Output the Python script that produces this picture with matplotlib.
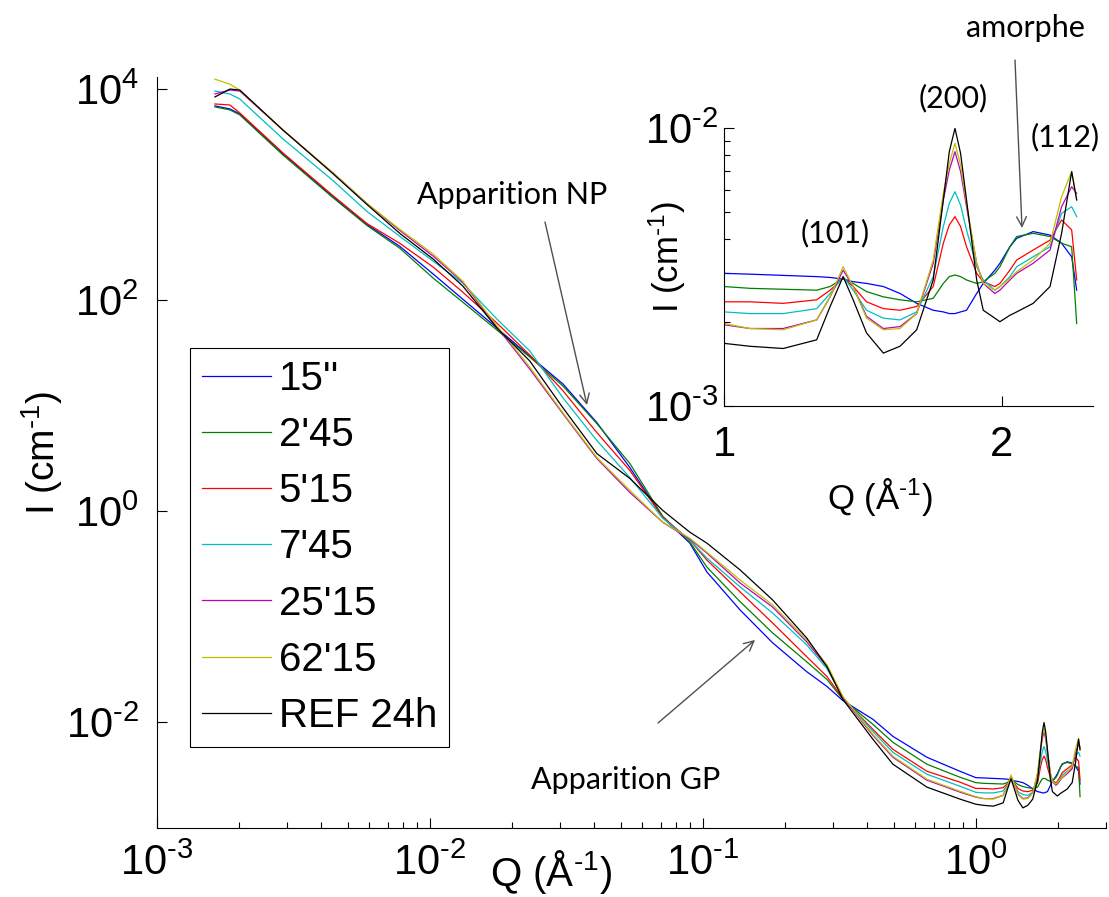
import math
import matplotlib
matplotlib.use('Agg')
import matplotlib.pyplot as plt
from matplotlib.ticker import NullLocator, NullFormatter, FixedLocator, FixedFormatter, LogLocator, FuncFormatter

plt.rcParams['font.family'] = ['Liberation Sans', 'DejaVu Sans']
plt.rcParams['mathtext.fontset'] = 'custom'
plt.rcParams['mathtext.rm'] = 'Liberation Sans'
plt.rcParams['mathtext.it'] = 'Liberation Sans:italic'
plt.rcParams['mathtext.bf'] = 'Liberation Sans:bold'
plt.rcParams['axes.unicode_minus'] = False

# Series labels and MATLAB-like colours
labels = ["15''", "2'45", "5'15", "7'45", "25'15", "62'15", "REF 24h"]
colors = ['#0000ff', '#008000', '#ff0000', '#00bfbf', '#bf00bf', '#bfbf00', '#000000']

# Small-angle part, Q in 1/A, I in 1/cm
q_low = [1.63e-3, 1.85e-3, 2.01e-3, 2.89e-3, 4.41e-3, 5.88e-3, 7.76e-3, 1.03e-2,
         1.32e-2, 1.76e-2, 2.32e-2, 3.07e-2, 4.09e-2, 5.40e-2, 7.13e-2, 8.96e-2,
         0.1035, 0.137, 0.180, 0.240, 0.285, 0.326, 0.420, 0.497, 0.662, 0.874]

i_low_15s = [6.92e3, 6.48e3, 5.81e3, 2.44e3, 958, 521, 323, 176, 102, 54.5, 29.6, 16.1, 6.92,
             2.60, 0.877, 0.499, 0.266, 0.116, 0.0569, 0.0303, 0.0219, 0.0161, 0.0107,
             0.00738, 0.00468, 0.00345]
i_low_2m45 = [6.77e3, 6.34e3, 5.69e3, 2.38e3, 937, 510, 310, 161, 95.7, 52.1, 29.0, 15.4, 6.77,
              2.84, 0.897, 0.510, 0.296, 0.139, 0.0706, 0.0376, 0.0255, 0.0165, 0.00958,
              0.00648, 0.00402, 0.00303]
i_low_5m15 = [7.22e3, 7.06e3, 5.94e3, 2.49e3, 979, 532, 345, 205, 119, 60.7, 30.3, 13.9, 5.56,
              2.44, 0.877, 0.533, 0.345, 0.172, 0.0877, 0.0420, 0.0272, 0.0168, 0.00859,
              0.00556, 0.00345, 0.00272]
i_low_7m45 = [9.57e3, 8.97e3, 8.05e3, 3.38e3, 1.36e3, 692, 402, 233, 145, 66.2, 33.1, 11.9, 4.68,
              2.09, 0.859, 0.533, 0.360, 0.192, 0.109, 0.0544, 0.0323, 0.0172, 0.00822,
              0.00521, 0.00323, 0.00249]
i_low_25m15 = [8.97e3, 9.78e3, 9.57e3, 4.10e3, 1.61e3, 823, 457, 260, 148, 55.6, 22.3, 8.41, 3.16,
               1.51, 0.787, 0.544, 0.402, 0.209, 0.124, 0.0581, 0.0337, 0.0172, 0.00754,
               0.00468, 0.00284, 0.00219]
i_low_62m15 = [1.24e4, 1.11e4, 9.78e3, 4.10e3, 1.61e3, 823, 468, 272, 151, 56.9, 23.3, 8.59, 3.23,
               1.58, 0.787, 0.556, 0.410, 0.223, 0.130, 0.0607, 0.0352, 0.0176, 0.00771,
               0.00478, 0.00290, 0.00223]
i_low_ref = [8.41e3, 1.0e4, 9.78e3, 4.10e3, 1.58e3, 805, 429, 244, 136, 54.5, 26.6, 9.57, 3.52,
             2.05, 1.02, 0.634, 0.499, 0.278, 0.145, 0.0633, 0.0337, 0.0165, 0.00692,
             0.00402, 0.00244, 0.00188]

# Wide-angle part (also used for the inset), I in units of 1e-3 1/cm
q_high = [1.00, 1.067, 1.159, 1.26, 1.303, 1.346, 1.38, 1.427, 1.488, 1.551, 1.617, 1.685,
          1.728, 1.754, 1.779, 1.804, 1.831, 1.878, 1.909, 1.965, 1.99, 2.04, 2.075, 2.162,
          2.255, 2.321, 2.38, 2.41]

i_high_15s = [3.00, 2.98, 2.95, 2.92, 2.90, 2.86, 2.80, 2.76, 2.69, 2.54, 2.34, 2.21, 2.18, 2.15,
              2.15, 2.18, 2.21, 2.54, 2.76, 3.08, 3.26, 3.74, 4.01, 4.24, 4.12, 3.85, 3.44, 2.61]
i_high_2m45 = [2.69, 2.65, 2.63, 2.61, 2.69, 2.88, 2.76, 2.58, 2.47, 2.41, 2.37, 2.44, 2.76, 2.92,
               2.96, 2.92, 2.84, 2.76, 2.80, 3.00, 3.17, 3.74, 4.07, 4.18, 4.07, 3.85, 3.74, 1.98]
i_high_5m15 = [2.37, 2.37, 2.34, 2.41, 2.61, 2.88, 2.69, 2.37, 2.24, 2.21, 2.28, 2.69, 3.85, 4.48,
               4.80, 4.42, 3.74, 3.00, 2.80, 2.69, 2.76, 3.08, 3.35, 3.64, 3.95, 4.67, 4.30, 2.84]
i_high_7m45 = [2.18, 2.15, 2.15, 2.24, 2.54, 2.92, 2.61, 2.21, 2.07, 2.04, 2.18, 2.92, 4.42, 5.36,
               5.90, 5.28, 4.30, 3.17, 2.84, 2.61, 2.69, 2.92, 3.17, 3.44, 3.74, 4.93, 5.21, 4.80]
i_high_25m15 = [1.96, 1.90, 1.90, 2.04, 2.47, 3.08, 2.69, 2.10, 1.90, 1.93, 2.15, 3.26, 5.51, 7.06,
                8.22, 6.97, 5.21, 3.26, 2.76, 2.54, 2.61, 2.84, 3.00, 3.26, 3.64, 5.21, 6.15, 5.82]
i_high_62m15 = [1.98, 1.90, 1.88, 2.04, 2.47, 3.17, 2.69, 2.07, 1.88, 1.90, 2.15, 3.35, 5.82, 7.46,
                8.81, 7.36, 5.36, 3.26, 2.76, 2.61, 2.69, 2.88, 3.04, 3.35, 3.85, 5.66, 6.97, 5.51]
i_high_ref = [1.68, 1.64, 1.61, 1.73, 2.28, 2.92, 2.41, 1.83, 1.55, 1.64, 1.88, 2.84, 5.51, 8.22,
              9.97, 8.11, 5.51, 2.84, 2.21, 2.07, 2.01, 2.12, 2.18, 2.34, 2.69, 4.18, 6.97, 5.51]

low_sets = [i_low_15s, i_low_2m45, i_low_5m15, i_low_7m45, i_low_25m15, i_low_62m15, i_low_ref]
high_sets = [i_high_15s, i_high_2m45, i_high_5m15, i_high_7m45, i_high_25m15, i_high_62m15, i_high_ref]

W, H = 1109, 897
fig = plt.figure(figsize=(W / 100, H / 100), dpi=100)

def px_box(x0, y0, x1, y1):
    # pixel box (top-left origin) -> figure fraction rect
    return [x0 / W, 1 - y1 / H, (x1 - x0) / W, (y1 - y0) / H]

def sci_label(v, pos):
    # MATLAB style 10^x with a short hyphen for negative exponents
    e = int(round(math.log10(v)))
    s = str(e) if e >= 0 else r'\text{-}' + str(-e)
    return r'$\mathdefault{10^{%s}}$' % s

ax = fig.add_axes(px_box(157, 77, 1106, 828))
for lab, col, lo, hi in zip(labels, colors, low_sets, high_sets):
    ax.plot(q_low + q_high, lo + [v * 1e-3 for v in hi], color=col, lw=0.9, label=lab)

ax.set_xscale('log')
ax.set_yscale('log')
ax.set_xlim(1e-3, 3.0)
ax.set_ylim(1e-3, 1.3e4)
ax.set_yticks([1e-2, 1e0, 1e2, 1e4])
ax.yaxis.set_minor_locator(NullLocator())
ax.xaxis.set_major_locator(FixedLocator([1e-3, 1e-2, 1e-1, 1e0]))
ax.xaxis.set_major_formatter(FuncFormatter(sci_label))
ax.yaxis.set_major_formatter(FuncFormatter(sci_label))
ax.xaxis.set_minor_formatter(NullFormatter())
ax.spines['top'].set_visible(False)
ax.spines['right'].set_visible(False)
for s in ['left', 'bottom']:
    ax.spines[s].set_linewidth(0.8)
ax.tick_params(which='both', direction='in', width=0.8, labelsize=30)
ax.tick_params(which='major', length=7.5)
ax.tick_params(which='minor', length=4.3)
ax.tick_params(axis='x', pad=11)
ax.tick_params(axis='y', pad=13)

ax.set_xlabel(r'Q (Å$^{\text{-}1}$)', fontsize=29, va='center')
ax.xaxis.set_label_coords((551 - 157) / 949, -0.058)
ax.set_ylabel(r'I (cm$^{\text{-}1}$)', fontsize=28, va='center')
ax.yaxis.set_label_coords(-0.121, 0.5)

leg = ax.legend(loc='upper left', bbox_to_anchor=((190 - 157) / 949, (828 - 348) / 751),
                fontsize=29, frameon=True, fancybox=False, framealpha=1,
                edgecolor='black', borderaxespad=0, handlelength=1.7,
                handletextpad=0.2, labelspacing=0.45, borderpad=0.3)
leg.get_frame().set_linewidth(0.8)

# Inset: wide-angle peaks
axin = fig.add_axes(px_box(724, 128, 1093, 406))
axin.patch.set_alpha(0)
for col, hi in zip(colors, high_sets):
    axin.plot(q_high, [v * 1e-3 for v in hi], color=col, lw=0.9)
axin.set_xscale('log')
axin.set_yscale('log')
axin.set_xlim(1.0, 2.51)
axin.set_ylim(1e-3, 1e-2)
axin.xaxis.set_major_locator(FixedLocator([1, 2]))
axin.xaxis.set_major_formatter(FixedFormatter(['1', '2']))
axin.xaxis.set_minor_locator(NullLocator())
axin.yaxis.set_major_locator(FixedLocator([1e-3, 1e-2]))
axin.yaxis.set_major_formatter(FuncFormatter(sci_label))
axin.yaxis.set_minor_locator(LogLocator(base=10, subs=[2, 3, 4, 5, 6, 7, 8, 9]))
axin.yaxis.set_minor_formatter(NullFormatter())
axin.spines['top'].set_visible(False)
axin.spines['right'].set_visible(False)
axin.tick_params(which='both', direction='in', width=0.8, labelsize=30)
axin.tick_params(which='major', length=7)
axin.tick_params(which='minor', length=4)
axin.tick_params(axis='x', pad=14)
axin.tick_params(axis='y', pad=4)
axin.set_xlabel(r'Q (Å$^{\text{-}1}$)', fontsize=25, va='center')
axin.xaxis.set_label_coords((880 - 724) / 369, -0.327)
axin.set_ylabel(r'I (cm$^{\text{-}1}$)', fontsize=25, va='center')
axin.yaxis.set_label_coords(-0.154, 0.536)

# Annotations (figure pixel positions)
def fp(x, y):
    return (x / W, 1 - y / H)

note_font = dict(fontsize=22, family=['Lato', 'DejaVu Sans'], color='black',
                 ha='center', va='center')
arrow = dict(arrowstyle='->,head_length=0.7,head_width=0.35', color='#505050', lw=1.0,
             shrinkA=0, shrinkB=0)

fig.text(*fp(512, 195), 'Apparition NP', **note_font)
ax.annotate('', xy=fp(587, 405), xytext=fp(545, 222), xycoords='figure fraction',
            textcoords='figure fraction', arrowprops=arrow)
fig.text(*fp(626, 780), 'Apparition GP', **note_font)
ax.annotate('', xy=fp(755, 640), xytext=fp(658, 723), xycoords='figure fraction',
            textcoords='figure fraction', arrowprops=arrow)
fig.text(*fp(1025, 28), 'amorphe', **note_font)
axin.annotate('', xy=fp(1022, 228), xytext=fp(1015, 60), xycoords='figure fraction',
              textcoords='figure fraction', arrowprops=arrow, annotation_clip=False)
fig.text(*fp(835, 233), '(101)', **note_font)
fig.text(*fp(953, 98), '(200)', **note_font)
fig.text(*fp(1065, 137), '(112)', **note_font)

fig.savefig('out.png', dpi=100)
